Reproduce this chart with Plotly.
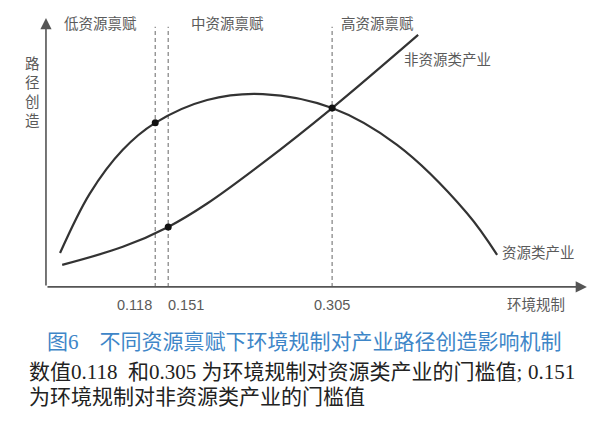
import plotly.graph_objects as go

# schematic chart: both axes run 0-100 (the original figure is not drawn to scale)
env_reg_res = [2.6, 8.1, 14.2, 20.2, 29.8, 40.1, 52.9, 64.9, 77.8, 83.4]
path_res = [12.6, 34.7, 51.0, 61.0, 69.5, 71.7, 66.5, 52.8, 27.5, 11.9]

env_reg_nonres = [3.0, 14.2, 22.6, 29.8, 40.1, 52.9, 68.8]
path_nonres = [8.2, 14.9, 22.3, 31.0, 46.1, 66.5, 93.7]

threshold_pos = [20.2, 22.6, 52.9]
threshold_labels = ["0.118", "0.151", "0.305"]
threshold_y = [61.0, 22.3, 66.5]   # where each threshold meets its curve

region_pos = [10.0, 33.5, 61.2]
region_labels = ["低资源禀赋", "中资源禀赋", "高资源禀赋"]

CJK_SANS = "Liberation Sans, Noto Sans CJK SC"
CJK_SERIF = "Liberation Serif, Noto Sans CJK SC"
GREY = "#5a5a5a"
OFF = 8  # page body margin


def px(xp):
    return (xp - OFF) / 600


def py(yp):
    return 1 - (yp - OFF) / 422


fig = go.Figure()

# dashed threshold lines
for xv in threshold_pos:
    fig.add_trace(go.Scatter(
        x=[xv, xv], y=[0, 96.7], mode="lines",
        line=dict(color="#8a8a8a", width=1.3, dash="4px,3px"),
        hoverinfo="skip", showlegend=False
    ))

fig.add_trace(go.Scatter(
    x=env_reg_res, y=path_res, mode="lines", line_shape="spline",
    line=dict(color="#333333", width=2.2), name="资源类产业", showlegend=False
))
fig.add_trace(go.Scatter(
    x=env_reg_nonres, y=path_nonres, mode="lines", line_shape="spline",
    line=dict(color="#333333", width=2.2), name="非资源类产业", showlegend=False
))
fig.add_trace(go.Scatter(
    x=threshold_pos, y=threshold_y, mode="markers",
    marker=dict(color="#111111", size=7), showlegend=False, hoverinfo="skip"
))

ann = []
# axes drawn as arrows
for tip in [(100, 0), (0, 100)]:
    ann.append(dict(x=tip[0], y=tip[1], ax=0, ay=0, xref="x", yref="y", axref="x", ayref="y",
                    text="", showarrow=True, arrowhead=2, arrowsize=1.4, arrowwidth=1.6,
                    arrowcolor="#555555"))

# threshold tick labels
anchors = ["right", "left", "center"]
shifts = [-1, -2, 0]
for xv, lab, anc, sh in zip(threshold_pos, threshold_labels, anchors, shifts):
    ann.append(dict(x=xv, y=-6.7, xref="x", yref="y", text=lab, showarrow=False,
                    xanchor=anc, xshift=sh, font=dict(family=CJK_SANS, size=14.5, color=GREY)))

for xv, lab in zip(region_pos, region_labels):
    ann.append(dict(x=xv, y=97.8, xref="x", yref="y", text=lab, showarrow=False,
                    font=dict(family=CJK_SANS, size=14.5, color=GREY)))

ann.append(dict(x=74.3, y=84.4, xref="x", yref="y", text="非资源类产业", showarrow=False,
                font=dict(family=CJK_SANS, size=14.5, color=GREY)))
ann.append(dict(x=91.0, y=12.6, xref="x", yref="y", text="资源类产业", showarrow=False,
                font=dict(family=CJK_SANS, size=14.5, color=GREY)))
ann.append(dict(x=90.6, y=-6.7, xref="x", yref="y", text="环境规制", showarrow=False,
                font=dict(family=CJK_SANS, size=14.5, color=GREY)))
ann.append(dict(x=-2.4, y=72.1, xref="x", yref="y", text="路<br>径<br>创<br>造", showarrow=False,
                font=dict(family=CJK_SANS, size=14.5, color=GREY)))

# caption
cap = dict(xref="paper", yref="paper", yanchor="middle", showarrow=False)
ann.append(dict(cap, x=px(45), y=py(342), xanchor="left",
                text="图6\u3000不同资源禀赋下环境规制对产业路径创造影响机制",
                font=dict(family=CJK_SERIF, size=21, color="#3e86c8")))
ann.append(dict(cap, x=px(27), y=py(372), xanchor="left",
                text="数值0.118\u00a0\u00a0和0.305\u00a0为环境规制对资源类产业的门槛值;",
                font=dict(family=CJK_SERIF, size=21, color="#222222")))
ann.append(dict(cap, x=px(577), y=py(372), xanchor="right", text="0.151",
                font=dict(family=CJK_SERIF, size=21, color="#222222")))
ann.append(dict(cap, x=px(27), y=py(397), xanchor="left",
                text="为环境规制对非资源类产业的门槛值",
                font=dict(family=CJK_SERIF, size=21, color="#222222")))

# x: 0 -> screen px 46, 100 -> 587 ; y: 0 -> screen px 287, 100 -> 18
fig.update_layout(
    width=600, height=422,
    margin=dict(l=0, r=0, t=0, b=0),
    paper_bgcolor="white", plot_bgcolor="white",
    xaxis=dict(range=[-7.02, 103.9], visible=False, fixedrange=True),
    yaxis=dict(range=[-53.2, 103.7], visible=False, fixedrange=True),
    annotations=ann,
    showlegend=False
)

fig.write_html("out.html")
